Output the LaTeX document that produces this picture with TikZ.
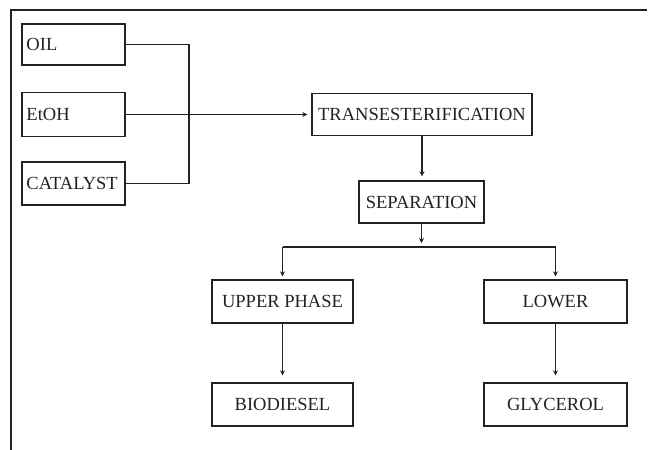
\documentclass[tikz,border=0pt]{standalone}
\usepackage{fontspec}
\setmainfont{Liberation Serif}
\usetikzlibrary{arrows.meta}
\definecolor{ink}{HTML}{222222}
\begin{document}
\begin{tikzpicture}[x=1pt,y=-1pt,
  box/.style={draw=ink,line width=1.4pt,rectangle,inner sep=0pt,text=ink,
    font=\fontsize{18.5}{20}\selectfont},
  leftbox/.style={box,minimum width=103pt,minimum height=42pt,text width=94pt,align=left},
  conn/.style={draw=ink,line width=1.1pt},
  arr/.style={conn,-{Stealth[length=5pt,width=5pt]}}]
\useasboundingbox (0,0) rectangle (651,450);
% partial frame
\draw[ink,line width=1.3pt] (647,10) -- (11,10) -- (11,450);
% input boxes
\node[leftbox,minimum height=41pt] (oil) at (73.5,44.5) {OIL};
\node[leftbox,minimum height=44pt] (etoh) at (73.5,114.5) {EtOH};
\node[leftbox,minimum height=43pt] (cat) at (73.5,183.5) {CATALYST};
% process boxes
\node[box,minimum width=220pt,minimum height=42pt] (trans) at (422,114.5) {TRANSESTERIFICATION};
\node[box,minimum width=125pt,minimum height=42pt] (sep) at (421.5,202) {SEPARATION};
\node[box,minimum width=141pt,minimum height=43pt] (up) at (282.5,301.5) {UPPER PHASE};
\node[box,minimum width=143pt,minimum height=43pt] (low) at (555.5,301.5) {LOWER};
\node[box,minimum width=141pt,minimum height=43pt] (bio) at (282.5,404.5) {BIODIESEL};
\node[box,minimum width=143pt,minimum height=43pt] (gly) at (555.5,404.5) {GLYCEROL};
% bus
\coordinate (bus) at (189,0);
\coordinate (split) at (0,247);
\draw[conn] (oil.east) -- (oil.east -| bus) -- (cat.east -| bus) -- (cat.east);
\draw[arr,shorten >=4pt] (etoh.east) -- (etoh.east -| trans.west);
\draw[arr,shorten >=4pt] (trans.south) -- (trans.south |- sep.north);
\draw[arr,shorten >=4pt] (sep.south) -- (sep.south |- split);
\draw[conn] (up.north |- split) -- (low.north |- split);
\draw[arr,shorten >=3pt] (up.north |- split) -- (up.north);
\draw[arr,shorten >=3pt] (low.north |- split) -- (low.north);
\draw[arr,shorten >=7pt] (up.south) -- (bio.north);
\draw[arr,shorten >=7pt] (low.south) -- (gly.north);
\end{tikzpicture}
\end{document}
